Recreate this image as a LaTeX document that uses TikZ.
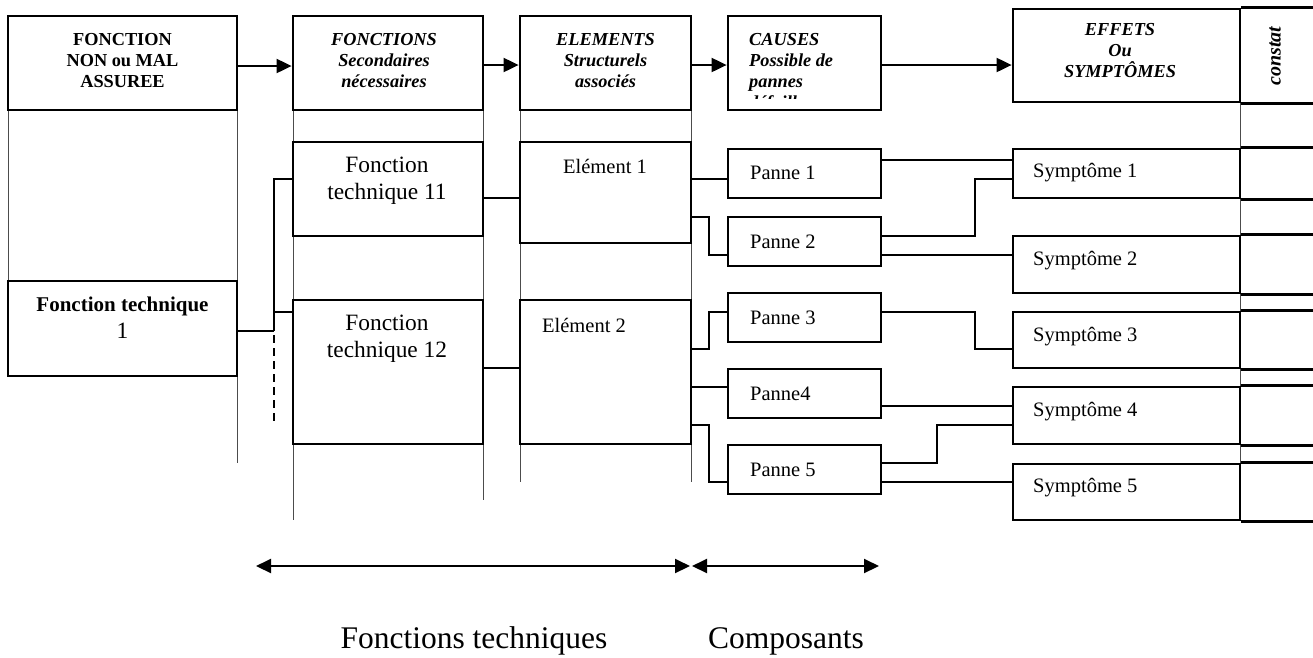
\documentclass[tikz,border=0pt]{standalone}
\usepackage{fontspec}
\setmainfont{Liberation Serif}
\usetikzlibrary{arrows.meta}
\begin{document}
\begin{tikzpicture}[x=1pt,y=-1pt,
  box/.style={draw, line width=2.8pt, inner sep=0pt, rectangle},
  boxline/.style={line width=2.8pt},
  thinline/.style={line width=0.9pt, black!70},
  conn/.style={line width=2pt},
  arr/.style={line width=2pt, -{Triangle[length=15pt,width=14pt]}},
  darr/.style={line width=2pt, {Triangle[length=15pt,width=14pt]}-{Triangle[length=15pt,width=14pt]}},
  hdr/.style={font=\fontsize{18.3}{21}\selectfont\bfseries\itshape, align=center, inner sep=0pt},
  hdrup/.style={font=\fontsize{18.3}{21}\selectfont\bfseries, align=center, inner sep=0pt},
  ftext/.style={font=\fontsize{23.4}{27}\selectfont, align=center, inner sep=0pt},
  ptext/.style={font=\fontsize{20.5}{24}\selectfont, inner sep=0pt},
  btext/.style={font=\fontsize{31.5}{36}\selectfont, inner sep=0pt}
]
\useasboundingbox (0,0) rectangle (1313,657);

% ---------- thin column lines
\draw[thinline] (8,110) -- (8,281);
\draw[thinline] (237,110) -- (237,463);
\draw[thinline] (293,110) -- (293,520);
\draw[thinline] (483,110) -- (483,500);
\draw[thinline] (520,110) -- (520,482);
\draw[thinline] (691,110) -- (691,482);
\draw[thinline] (1240,102) -- (1240,520);

% ---------- header boxes
\node[box, minimum width=229pt, minimum height=94pt] (A) at (122.5,63) {};
\node[box, minimum width=190pt, minimum height=94pt] (B) at (388,63) {};
\node[box, minimum width=171pt, minimum height=94pt] (C) at (605.5,63) {};
\node[box, minimum width=153pt, minimum height=94pt] (D) at (804.5,63) {};
\node[box, minimum width=227pt, minimum height=93pt] (E) at (1126.5,55.5) {};
\draw[boxline] (E.north east) -- ++(73,0);
\draw[boxline] (E.south east) -- ++(73,0);

\node[hdrup] (tA) at (122.5,61) {FONCTION\\NON ou MAL\\ASSUREE};
\node[hdr] (tB) at (384,61) {FONCTIONS\\Secondaires\\nécessaires};
\node[hdr] (tC) at (605.5,61) {ELEMENTS\\Structurels\\associés};
\begin{scope}
  \clip (730,18) rectangle (879,98.5);
  \node[hdr, align=left, anchor=north west] (tD) at (749,33.5) {CAUSES\\Possible de\\pannes\\défaillances};
\end{scope}
\node[hdr] (tE) at (1120,51) {EFFETS\\Ou\\SYMPTÔMES};
\node[hdr, font=\fontsize{20}{24}\selectfont\bfseries\itshape, rotate=90] (tK) at (1275,56) {constat};

\draw[arr] (A.east |- 0,66) -- (B.west |- 0,66);
\draw[arr] (B.east |- 0,65) -- (C.west |- 0,65);
\draw[arr] (C.east |- 0,65) -- (D.west |- 0,65);
\draw[arr] (D.east |- 0,65) -- (E.west |- 0,65);

% ---------- main boxes
\node[box, minimum width=229pt, minimum height=95pt] (FT1) at (122.5,328.5) {};
\node[box, minimum width=190pt, minimum height=94pt] (FT11) at (388,189) {};
\node[box, minimum width=190pt, minimum height=144pt] (FT12) at (388,372) {};
\node[box, minimum width=171pt, minimum height=101pt] (E1) at (605.5,192.5) {};
\node[box, minimum width=171pt, minimum height=144pt] (E2) at (605.5,372) {};

\node[box, minimum width=153pt, minimum height=49pt] (P1) at (804.5,173.5) {};
\node[box, minimum width=153pt, minimum height=49pt] (P2) at (804.5,241.5) {};
\node[box, minimum width=153pt, minimum height=49pt] (P3) at (804.5,317.5) {};
\node[box, minimum width=153pt, minimum height=49pt] (P4) at (804.5,393.5) {};
\node[box, minimum width=153pt, minimum height=49pt] (P5) at (804.5,469.5) {};

\node[box, minimum width=227pt, minimum height=49pt] (S1) at (1126.5,173.5) {};
\node[box, minimum width=227pt, minimum height=57pt] (S2) at (1126.5,264.5) {};
\node[box, minimum width=227pt, minimum height=56pt] (S3) at (1126.5,340) {};
\node[box, minimum width=227pt, minimum height=57pt] (S4) at (1126.5,415.5) {};
\node[box, minimum width=227pt, minimum height=56pt] (S5) at (1126.5,492) {};
\foreach \s in {S1,S2,S3,S4,S5}{
  \draw[boxline] (\s.north east) -- ++(73,0);
  \draw[boxline] (\s.south east) -- ++(73,0);
}

% ---------- texts
\node[ftext] (tFT1) at (122.5,318) {\fontsize{21}{26}\selectfont{\bfseries Fonction technique}\\1};
\node[ftext] (tFT11) at (387,181) {Fonction\\technique 11};
\node[ftext] (tFT12) at (387,339) {Fonction\\technique 12};
\node[ptext] (tE1) at (605,166) {Elément 1};
\node[ptext] (tE2) at (584,325) {Elément 2};
\node[ptext, anchor=west] at (750,173) {Panne 1};
\node[ptext, anchor=west] at (750,241.5) {Panne 2};
\node[ptext, anchor=west] at (750,317.5) {Panne 3};
\node[ptext, anchor=west] at (750,394) {Panne4};
\node[ptext, anchor=west] at (750,470) {Panne 5};
\node[ptext, anchor=west] at (1033,173) {Symptôme 1};
\node[ptext, anchor=west] at (1033,261) {Symptôme 2};
\node[ptext, anchor=west] at (1033,337) {Symptôme 3};
\node[ptext, anchor=west] at (1033,412) {Symptôme 4};
\node[ptext, anchor=west] at (1033,488) {Symptôme 5};

% ---------- connectors
\coordinate (bus) at (274,331);
\draw[conn] (FT1.east |- bus) -- (bus);
\draw[conn] (FT11.west |- 0,179) -| (bus);
\draw[conn] (FT12.west |- 0,312) -- (bus |- 0,312);
\draw[line width=1.5pt, dash pattern=on 8pt off 5pt] (bus) ++(0,4) -- (274,422);

\draw[conn] (FT11.east |- 0,198) -- (E1.west |- 0,198);
\draw[conn] (FT12.east |- 0,368) -- (E2.west |- 0,368);

\draw[conn] (E1.east |- 0,179) -- (P1.west |- 0,179);
\draw[conn] (E1.east |- 0,217) -- (709,217) |- (P2.west |- 0,255);
\draw[conn] (E2.east |- 0,349) -- (709,349) |- (P3.west |- 0,312);
\draw[conn] (E2.east |- 0,387) -- (P4.west |- 0,387);
\draw[conn] (E2.east |- 0,425) -- (709,425) |- (P5.west |- 0,482);

\draw[conn] (P1.east |- 0,160) -- (S1.west |- 0,160);
\draw[conn] (P2.east |- 0,236) -- (975,236) |- (S1.west |- 0,179);
\draw[conn] (P2.east |- 0,255) -- (S2.west |- 0,255);
\draw[conn] (P3.east |- 0,312) -- (975,312) |- (S3.west |- 0,349);
\draw[conn] (P4.east |- 0,406) -- (S4.west |- 0,406);
\draw[conn] (P5.east |- 0,463) -- (937,463) |- (S4.west |- 0,425);
\draw[conn] (P5.east |- 0,482) -- (S5.west |- 0,482);

% ---------- bottom
\coordinate (b1) at (256,566);
\coordinate (b2) at (690,566);
\coordinate (b3) at (692,566);
\coordinate (b4) at (879,566);
\draw[darr] (b1) -- (b2);
\draw[darr] (b3) -- (b4);
\node[btext, anchor=base] (L1) at (474,648) {Fonctions techniques};
\node[btext, anchor=base] (L2) at (786,648) {Composants};
\end{tikzpicture}
\end{document}
